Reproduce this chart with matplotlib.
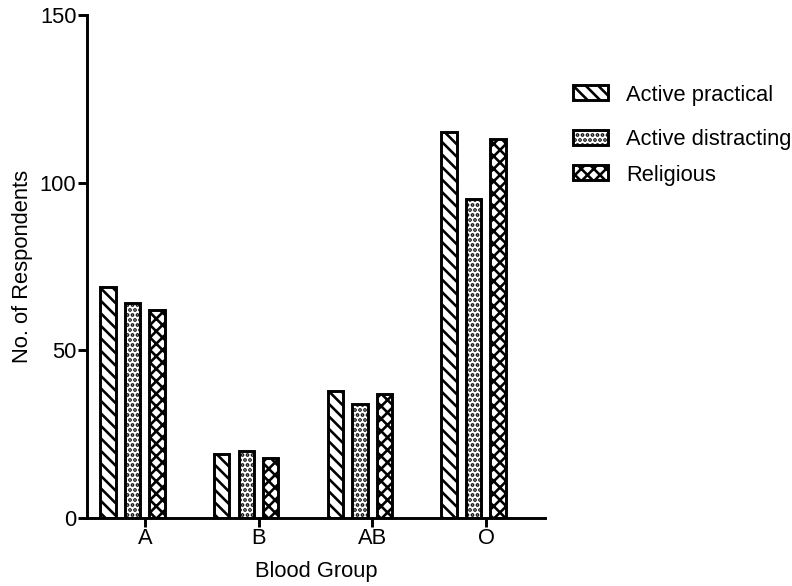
import matplotlib
matplotlib.use("Agg")
import matplotlib.pyplot as plt
import numpy as np

groups = ["A", "B", "AB", "O"]
series = ["Active practical", "Active distracting", "Religious"]
active_practical = [69, 19, 38, 115]
active_distracting = [64, 20, 34, 95]
religious = [62, 18, 37, 113]
yticks = [0, 50, 100, 150]
hatches = ["\\\\\\\\", ".....", "xxxx"]

DPI = 150
plt.rcParams['font.family'] = ['Liberation Sans', 'DejaVu Sans']
plt.rcParams['hatch.linewidth'] = 1.25
plt.rcParams['hatch.color'] = 'black'

fig = plt.figure(figsize=(792 / DPI, 586 / DPI), dpi=DPI)
ax = fig.add_axes([87 / 792, 1 - 518 / 586, 458 / 792, 503 / 586])

values = [active_practical, active_distracting, religious]
x = np.arange(len(groups))
pitch = 0.215
width = 0.135
lw = 1.4
handles = []
for j, (name, vals, h) in enumerate(zip(series, values, hatches)):
    b = ax.bar(x + (j - 1) * pitch, vals, width=width, facecolor='white',
               edgecolor='black', linewidth=lw, hatch=h, label=name, zorder=2)
    handles.append(b)

ax.set_xlim(-0.40, 3.628)
ax.set_ylim(0, 150)
ax.set_yticks(yticks)
ax.set_xticks(x + 0.11)
ax.set_xticklabels(groups)

for s in ['top', 'right']:
    ax.spines[s].set_visible(False)
for s in ['left', 'bottom']:
    ax.spines[s].set_linewidth(lw)

fs = 10.5
ax.tick_params(axis='both', direction='out', length=4.3, width=lw, labelsize=fs)
ax.tick_params(axis='y', pad=0.8)
ax.tick_params(axis='x', pad=0.6)

ax.set_xlabel("Blood Group", fontsize=fs)
ax.set_ylabel("No. of Respondents", fontsize=fs)
ax.xaxis.set_label_coords(0.5, -0.085)
ax.yaxis.set_label_coords(-0.118, 0.5)

legend_y = [95, 140, 175]
for hnd, name, yy in zip(handles, series, legend_y):
    leg = fig.legend([hnd], [name], loc='center left',
                     bbox_to_anchor=(573 / 792, 1 - yy / 586),
                     frameon=False, fontsize=fs, borderpad=0, borderaxespad=0,
                     handlelength=1.6, handleheight=0.69, handletextpad=0.83)

fig.savefig("out.png", dpi=DPI)
